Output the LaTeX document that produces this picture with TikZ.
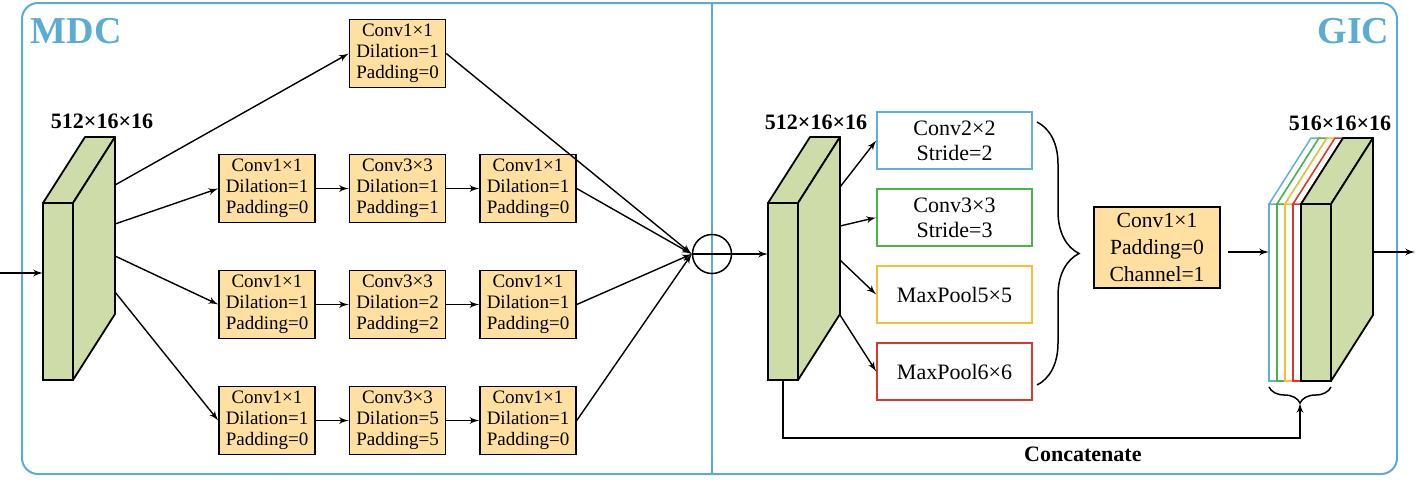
\documentclass[tikz,border=0pt]{standalone}
\usepackage{fontspec}
\setmainfont{Liberation Serif}
\usetikzlibrary{shapes,arrows,positioning,calc,decorations.pathreplacing}
\definecolor{frameblue}{RGB}{91,172,212}
\definecolor{boxyellow}{RGB}{255,224,160}
\definecolor{cubegreen}{RGB}{206,220,170}
\definecolor{lineblue}{RGB}{98,176,215}
\definecolor{linegreen}{RGB}{76,178,76}
\definecolor{lineyellow}{RGB}{246,190,60}
\definecolor{linered}{RGB}{214,58,48}
\tikzset{
frame/.style = {draw=frameblue, line width=1pt},
title/.style = {text=frameblue, font=\bfseries\fontsize{19}{19}\selectfont, inner sep=0},
block/.style = {draw, fill=boxyellow, rectangle, line width=0.75pt, minimum width=48pt, minimum height=34pt, inner sep=0, align=center, font=\fontsize{9.5}{10.5}\selectfont},
branch/.style = {draw=#1, fill=white, rectangle, line width=0.8pt, minimum width=77.5pt, minimum height=28.5pt, inner sep=0, align=center, font=\fontsize{11}{12.5}\selectfont},
front/.style = {draw, fill=cubegreen, rectangle, line width=0.9pt, minimum width=15pt, minimum height=88.5pt, inner sep=0, outer sep=0},
cube/.style = {draw, fill=cubegreen, line width=0.9pt, line join=round},
dim/.style = {font=\bfseries\fontsize{11}{13}\selectfont, inner sep=0},
sum/.style = {draw, circle, line width=0.75pt, minimum size=19.5pt, inner sep=0},
slab/.style = {draw=#1, fill=white, line width=0.75pt},
brace/.style = {decorate, decoration={brace, amplitude=#1}, line width=0.75pt},
tmp/.style = {coordinate}
}
% top and side faces of a feature map, hung on its front face node
\newcommand{\featmap}[1]{%
  \filldraw[cube] (#1.north west) -- ++(42,-66) -- ++(30,0) -- (#1.north east) -- cycle;
  \filldraw[cube] (#1.north east) -- ++(42,-66) -- ++(0,177) -- (#1.south east) -- cycle;}
\begin{document}
\begin{tikzpicture}[x=0.5pt, y=-0.5pt, node distance=65.25pt, >=latex', line width=0.7pt]
\useasboundingbox (0,0) rectangle (1417,479);
\draw[frame, rounded corners=8pt] (22,3) rectangle (1397,474);
\draw[frame] (712,3) -- (712,474);
\node[title, anchor=west] (mdc) at (30,31) {MDC};
\node[title, anchor=east] (gic) at (1390,31) {GIC};

% MDC
\node[tmp] (in) at (0,273) {};
\node[front] (fa) at (58,291.5) {};
\featmap{fa}
\node[dim] (dima) at (102,121) {512×16×16};
\node[tmp] (a1) at (115,185) {};
\node[tmp] (a2) at (115,224) {};
\node[tmp] (a3) at (115,256) {};
\node[tmp] (a4) at (115,292) {};

\node[block] (conv0) at (397.5,53.5) {Conv1×1\\Dilation=1\\Padding=0};
\node[block] (c11) at (267,188.5) {Conv1×1\\Dilation=1\\Padding=0};
\node[block, right of=c11] (c12) {Conv3×3\\Dilation=1\\Padding=1};
\node[block, right of=c12] (c13) {Conv1×1\\Dilation=1\\Padding=0};
\node[block, below of=c11, node distance=58pt] (c21) {Conv1×1\\Dilation=1\\Padding=0};
\node[block, right of=c21] (c22) {Conv3×3\\Dilation=2\\Padding=2};
\node[block, right of=c22] (c23) {Conv1×1\\Dilation=1\\Padding=0};
\node[block, below of=c21, node distance=58pt] (c31) {Conv1×1\\Dilation=1\\Padding=0};
\node[block, right of=c31] (c32) {Conv3×3\\Dilation=5\\Padding=5};
\node[block, right of=c32] (c33) {Conv1×1\\Dilation=1\\Padding=0};
\node[sum] (cat1) at (712,254) {};

\draw[->] (in) -- (in -| fa.west);
\draw[->] (a1) -- (conv0.west);
\draw[->] (a2) -- (c11.west);
\draw[->] (a3) -- (c21.west);
\draw[->] (a4) -- (c31.west);
\foreach \r in {1,2,3}{
  \draw[->] (c\r1) -- (c\r2);
  \draw[->] (c\r2) -- (c\r3);
  \draw[->] (c\r3.east) -- (cat1.west);
}
\draw[->] (conv0.east) -- (cat1.west);

% GIC
\node[front] (fb) at (783,291.5) {};
\featmap{fb}
\node[dim] (dimb) at (816,122) {512×16×16};
\draw[->] (cat1.west) -- (cat1.west -| fb.west);
\node[tmp] (b1) at (840,187) {};
\node[tmp] (b2) at (840,226) {};
\node[tmp] (b3) at (840,260) {};
\node[tmp] (b4) at (840,315) {};

\node[branch=lineblue] (g1) at (954.5,140.5) {Conv2×2\\Stride=2};
\node[branch=linegreen, below of=g1, node distance=38.5pt] (g2) {Conv3×3\\Stride=3};
\node[branch=lineyellow, below of=g2, node distance=38.5pt] (g3) {MaxPool5×5};
\node[branch=linered, below of=g3, node distance=38.5pt] (g4) {MaxPool6×6};
\foreach \i in {1,2,3,4}
  \draw[->] (b\i) -- (g\i.west);
\draw[brace=21pt] (1037,122) -- (1037,385);

\node[block, minimum width=63pt, minimum height=40.5pt, font=\fontsize{10.8}{13.5}\selectfont] (ch) at (1157,247.5) {Conv1×1\\Padding=0\\Channel=1};

% output: four new channels in front of the map
\foreach \c [count=\i from 0] in {lineblue,linegreen,lineyellow,linered}{
  \draw[slab=\c] (1269+8*\i,204) rectangle ++(8,177);
  \draw[slab=\c] (1269+8*\i,204) -- ++(42,-66) -- ++(8,0) -- ++(-42,66) -- cycle;
}
\node[front] (fc) at (1316,292.5) {};
\featmap{fc}
\node[dim] (dimc) at (1340,123) {516×16×16};
\node[tmp] (s1) at (1228,252) {};
\node[tmp] (s2) at (1269,252) {};
\draw[->] (s1) -- (s2);
\node[tmp] (o1) at (1373,252) {};
\node[tmp] (o2) at (1415,252) {};
\draw[->] (o1) -- (o2);

\draw[brace=8pt, decoration={mirror}] (1269,387) -- (1331,387);
\node[tmp] (ctip) at (1300,403) {};
\node[tmp] (cturn) at (1300,438) {};
\draw[->] (fb.south) |- node[dim, below=4pt, pos=0.79]{Concatenate} (cturn) -- (ctip);
\end{tikzpicture}
\end{document}
